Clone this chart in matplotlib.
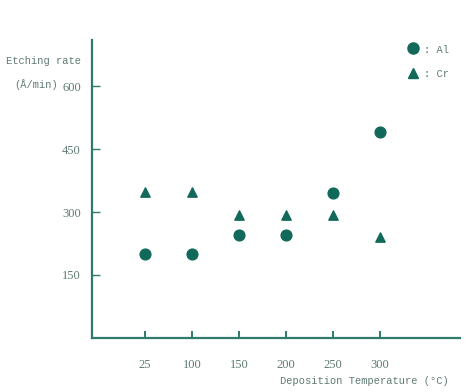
import numpy as np
import matplotlib
matplotlib.use("Agg")
import matplotlib.pyplot as plt

temps = ["25", "100", "150", "200", "250", "300"]
al_rate = [200, 200, 245, 245, 345, 490]
cr_rate = [347, 347, 293, 293, 293, 241]
y_ticks = [150, 300, 450, 600]

teal = "#12695a"
line_col = "#2e7a6c"
text_col = "#5f7a74"

fig = plt.figure(figsize=(4.69, 3.92), dpi=100)
ax = fig.add_axes([0.196, 0.138, 0.785, 0.76])

pos = np.arange(len(temps))
ax.scatter(pos, al_rate, marker="o", s=60, color=teal, zorder=3)
ax.scatter(pos, cr_rate, marker="^", s=45, color=teal, zorder=3)

ax.set_xlim(-1.13, 6.70)
ax.set_ylim(0, 710)
ax.set_xticks(pos)
ax.set_xticklabels(temps)
ax.set_yticks(y_ticks)

for side in ["top", "right"]:
    ax.spines[side].set_visible(False)
for side in ["left", "bottom"]:
    ax.spines[side].set_color(line_col)
    ax.spines[side].set_linewidth(1.6)

ax.tick_params(axis="x", direction="in", length=5, width=1.4, color=line_col,
               pad=15, labelsize=9, labelcolor=text_col)
ax.tick_params(axis="y", direction="in", length=6, width=1.0, color=line_col,
               pad=8, labelsize=9, labelcolor=text_col)
for lab in ax.get_xticklabels() + ax.get_yticklabels():
    lab.set_family("Liberation Serif")

fig.text(0.012, 0.838, "Etching rate", fontsize=7.5, color=text_col, family="Liberation Mono")
fig.text(0.030, 0.776, "(Å/min)", fontsize=7.5, color=text_col, family="Liberation Mono")
fig.text(0.598, 0.02, "Deposition Temperature (\u00b0C)", fontsize=7.5, color=text_col,
         family="Liberation Mono")

# legend
fig.lines.append(plt.Line2D([0.881], [0.877], marker="o", markersize=8, color=teal,
                            transform=fig.transFigure, figure=fig))
fig.lines.append(plt.Line2D([0.881], [0.814], marker="^", markersize=7, color=teal,
                            transform=fig.transFigure, figure=fig))
fig.text(0.905, 0.866, ": Al", fontsize=7.5, color=text_col, family="Liberation Mono")
fig.text(0.905, 0.803, ": Cr", fontsize=7.5, color=text_col, family="Liberation Mono")

fig.savefig("out.png", dpi=100)
